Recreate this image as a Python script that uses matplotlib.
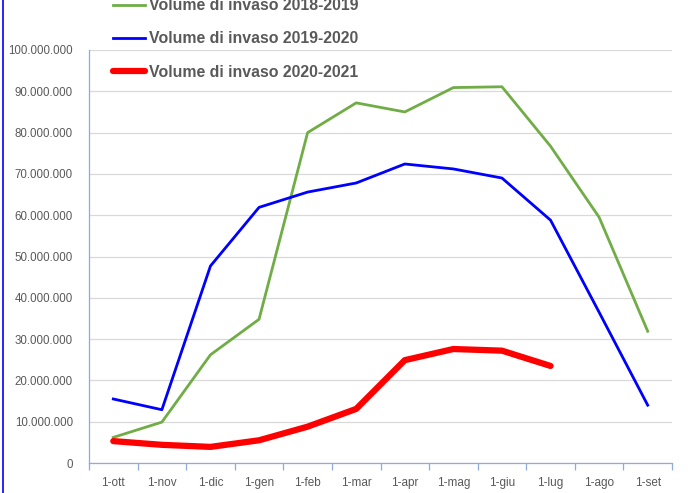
import matplotlib
matplotlib.use("Agg")
import matplotlib.pyplot as plt
from matplotlib.lines import Line2D
from matplotlib.ticker import FuncFormatter, FixedLocator
import numpy as np

categories = ["1-ott", "1-nov", "1-dic", "1-gen", "1-feb", "1-mar",
              "1-apr", "1-mag", "1-giu", "1-lug", "1-ago", "1-set"]
vol_2018_2019 = [6.2e6, 9.9e6, 26.2e6, 34.8e6, 80.0e6, 87.2e6,
                 85.0e6, 90.9e6, 91.1e6, 76.7e6, 59.5e6, 31.9e6]
vol_2019_2020 = [15.5e6, 12.9e6, 47.7e6, 61.9e6, 65.6e6, 67.8e6,
                 72.4e6, 71.2e6, 69.0e6, 58.8e6, 36.5e6, 14.0e6]
vol_2020_2021 = [5.3e6, 4.4e6, 3.9e6, 5.5e6, 8.8e6, 13.1e6,
                 24.9e6, 27.6e6, 27.2e6, 23.5e6]
labels = ["Volume di invaso 2018-2019", "Volume di invaso 2019-2020",
          "Volume di invaso 2020-2021"]

plt.rcParams['font.family'] = ['Liberation Sans', 'DejaVu Sans']
W, H = 697, 493
fig = plt.figure(figsize=(W / 100, H / 100), dpi=100)
ax = fig.add_axes([89 / W, 1 - 463 / H, (672 - 89) / W, (463 - 50) / H])

x = np.arange(len(categories))
l1, = ax.plot(x, vol_2018_2019, color="#70ad47", lw=2.0, solid_joinstyle="round", zorder=3)
l2, = ax.plot(x, vol_2019_2020, color="#0000ff", lw=2.0, solid_joinstyle="round", zorder=4)
l3, = ax.plot(np.arange(len(vol_2020_2021)), vol_2020_2021, color="#ff0000", lw=4.5,
              solid_joinstyle="round", solid_capstyle="round", zorder=5)

ax.set_xlim(-0.5, len(categories) - 0.5)
ax.set_ylim(0, 100e6)
ax.yaxis.set_major_locator(FixedLocator(np.arange(0, 100e6 + 1, 10e6)))
ax.yaxis.set_major_formatter(FuncFormatter(lambda v, p: f"{int(round(v)):,}".replace(",", ".")))
ax.grid(axis="y", color="#d9d9d9", lw=0.9, zorder=0)
ax.set_axisbelow(True)

ax.xaxis.set_major_locator(FixedLocator(np.arange(-0.5, len(categories), 1.0)))
ax.xaxis.set_minor_locator(FixedLocator(x))
ax.set_xticklabels([], minor=False)
ax.set_xticklabels(categories, minor=True)
ax.tick_params(axis="x", which="major", length=5, color="#8faadc", width=0.9, direction="out")
ax.tick_params(axis="x", which="minor", length=0, pad=10, labelsize=8.5, labelcolor="#595959")
ax.tick_params(axis="y", length=0, pad=11.5, labelsize=8.3, labelcolor="#595959")

for s in ["top", "right"]:
    ax.spines[s].set_visible(False)
for s in ["left", "bottom"]:
    ax.spines[s].set_color("#8faadc")
    ax.spines[s].set_linewidth(0.9)

leg = fig.legend([l1, l2, l3], labels, loc="center left",
                 bbox_to_anchor=(113 / W, 1 - 39 / H), frameon=False,
                 borderpad=0, borderaxespad=0, handlelength=2.05, handletextpad=0.2,
                 labelspacing=1.15, prop={"weight": "bold", "size": 11.4})
for t in leg.get_texts():
    t.set_color("#595959")

fig.add_artist(Line2D([3 / W, 3 / W], [0, 1], color="#0000ff", lw=1.2, transform=fig.transFigure))

fig.savefig("out.png", dpi=100)
